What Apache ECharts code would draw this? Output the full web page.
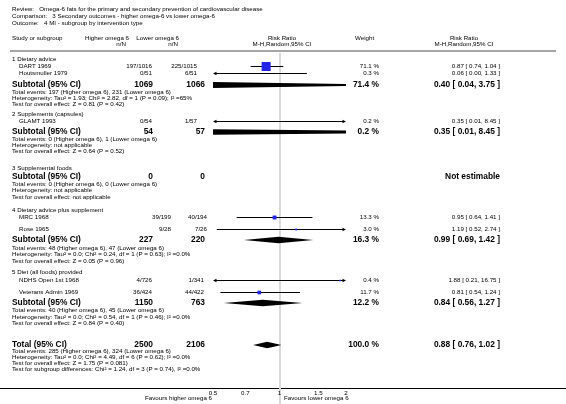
<!DOCTYPE html>
<html><head><meta charset="utf-8">
<script src="https://cdn.jsdelivr.net/npm/echarts@6/dist/echarts.min.js"></script>
<style>html,body{margin:0;padding:0;background:#fff}#c{width:566px;height:404px}</style>
</head><body><div id="c"></div>
<script>
// ================= DATA =================
const reviewTitle = 'Omega-6 fats for the primary and secondary prevention of cardiovascular disease';
const comparisonTitle = '3 Secondary outcomes - higher omega-6 vs lower omega-6';
const outcomeTitle = '4 MI - subgroup by intervention type';
const groupNames = ['1 Dietary advice', '2 Supplements (capsules)', '3 Supplemental foods', '4 Dietary advice plus supplement', '5 Diet (all foods) provided'];
const studyNames = [['DART 1969', 'Houtsmuller 1979'], ['GLAMT 1993'], [], ['MRC 1968', 'Rose 1965'], ['NDHS Open 1st 1968', 'Veterans Admin 1969']];
const higherEvents = [[197, 0], [0], [], [39, 9], [4, 36]];
const higherTotal = [[1016, 51], [54], [], [199, 28], [726, 424]];
const lowerEvents = [[225, 6], [1], [], [40, 7], [1, 44]];
const lowerTotal = [[1015, 51], [57], [], [194, 26], [341, 422]];
const studyWeight = [[71.1, 0.3], [0.2], [], [13.3, 3.0], [0.4, 11.7]];
const studyRR = [[0.87, 0.06], [0.35], [], [0.95, 1.19], [1.88, 0.81]];
const studyLo = [[0.74, 0.00], [0.01], [], [0.64, 0.52], [0.21, 0.54]];
const studyHi = [[1.04, 1.33], [8.45], [], [1.41, 2.74], [16.75, 1.24]];
const subHigherN = [1069, 54, 0, 227, 1150];
const subLowerN = [1066, 57, 0, 220, 763];
const subWeight = [71.4, 0.2, null, 16.3, 12.2];
const subRR = [0.40, 0.35, null, 0.99, 0.84];
const subLo = [0.04, 0.01, null, 0.69, 0.56];
const subHi = [3.75, 8.45, null, 1.42, 1.27];
const subEventsHigher = [197, 0, 0, 48, 40];
const subEventsLower = [231, 1, 0, 47, 45];
const subHeterogeneity = [
  'Tau\u00b2 = 1.93; Chi\u00b2 = 2.82, df = 1 (P = 0.09); I\u00b2 =65%',
  'not applicable',
  'not applicable',
  'Tau\u00b2 = 0.0; Chi\u00b2 = 0.24, df = 1 (P = 0.63); I\u00b2 =0.0%',
  'Tau\u00b2 = 0.0; Chi\u00b2 = 0.54, df = 1 (P = 0.46); I\u00b2 =0.0%'
];
const subOverall = ['Z = 0.81 (P = 0.42)', 'Z = 0.64 (P = 0.52)', 'not applicable', 'Z = 0.05 (P = 0.96)', 'Z = 0.84 (P = 0.40)'];
const totalHigherN = 2500, totalLowerN = 2106;
const totalWeight = 100.0, totalRR = 0.88, totalLo = 0.76, totalHi = 1.02;
const totalEventsHigher = 285, totalEventsLower = 324;
const totalHeterogeneity = 'Tau\u00b2 = 0.0; Chi\u00b2 = 4.49, df = 6 (P = 0.62); I\u00b2 =0.0%';
const totalOverall = 'Z = 1.75 (P = 0.081)';
const subgroupDiff = 'Chi\u00b2 = 1.24, df = 3 (P = 0.74), I\u00b2 =0.0%';
const tickValues = [0.5, 0.7, 1, 1.5, 2];
const axisMin = 0.5, axisMax = 2;
const leftLabel = 'Favours higher omega 6';
const rightLabel = 'Favours lower omega 6';

// ================= LAYOUT / STYLE =================
const FONT = '"Liberation Sans", Arial, Helvetica, sans-serif';
const fReg = '6.2px ' + FONT;
const fBold = 'bold 8.4px ' + FONT;
const LX = { study: 12, indent: 19, high: 153, low: 205, highHead: 129, lowHead: 179, plotHead: 282,
  weightHead: 355, weight: 379, rr: 500, rrHead: 464, sepL: 10, sepR: 556, favL: 212, favR: 284 };
// per-study right edges of the n/N columns (as laid out in the source figure)
const studyHighX = [[152, 152], [152], [], [171, 171], [152, 152]];
const studyLowX = [[197, 197], [197], [], [207, 207], [204, 204]];
const LY = {
  titles: [9, 16, 23], head: [38, 44], sep: 51,
  groups: [
    { head: 59, studies: [66, 73], sub: 85, info: [92, 98, 104] },
    { head: 114, studies: [121], sub: 132, info: [139, 145, 151] },
    { head: 168.5, studies: [], sub: 177, info: [184, 190, 197] },
    { head: 210, studies: [217, 229], sub: 240, info: [248, 254, 261] },
    { head: 272, studies: [280, 292], sub: 303, info: [310, 317, 323] }
  ],
  total: 345, totalInfo: [351.5, 357.5, 363.5, 369.5], axis: 388, favours: 398, refTop: 53, bottom: 404
};
const GRID = { left: 213, right: 220 };
const SQUARE_BLUE = '#2424e6';

// ================= BUILD ROWS =================
const f2 = v => v.toFixed(2);
const ci = (e, l, h) => f2(e) + ' [ ' + f2(l) + ', ' + f2(h) + ' ]';
const texts = [];
const T = (x, y, text, font, align) => texts.push({ x, y, text, font: font || fReg, align: align || 'left' });

T(LX.study, LY.titles[0], 'Review:   ' + reviewTitle);
T(LX.study, LY.titles[1], 'Comparison:   ' + comparisonTitle);
T(LX.study, LY.titles[2], 'Outcome:   ' + outcomeTitle);
T(LX.study, LY.head[0], 'Study or subgroup');
T(LX.highHead, LY.head[0], 'Higher omega 6', fReg, 'right');
T(LX.highHead - 3, LY.head[1], 'n/N', fReg, 'right');
T(LX.lowHead, LY.head[0], 'Lower omega 6', fReg, 'right');
T(LX.lowHead - 1, LY.head[1], 'n/N', fReg, 'right');
T(LX.plotHead, LY.head[0], 'Risk Ratio', fReg, 'center');
T(LX.plotHead, LY.head[1], 'M-H,Random,95% CI', fReg, 'center');
T(LX.weightHead, LY.head[0], 'Weight');
T(LX.rrHead, LY.head[0], 'Risk Ratio', fReg, 'center');
T(LX.rrHead, LY.head[1], 'M-H,Random,95% CI', fReg, 'center');

const ciRows = [];
const diamonds = [];
groupNames.forEach((g, gi) => {
  const ly = LY.groups[gi];
  T(LX.study, ly.head, g);
  studyNames[gi].forEach((s, si) => {
    const y = ly.studies[si];
    T(LX.indent, y, s);
    T(studyHighX[gi][si], y, higherEvents[gi][si] + '/' + higherTotal[gi][si], fReg, 'right');
    T(studyLowX[gi][si], y, lowerEvents[gi][si] + '/' + lowerTotal[gi][si], fReg, 'right');
    T(LX.weight, y, studyWeight[gi][si].toFixed(1) + ' %', fReg, 'right');
    T(LX.rr, y, ci(studyRR[gi][si], studyLo[gi][si], studyHi[gi][si]), fReg, 'right');
    ciRows.push({ y, est: studyRR[gi][si], lo: studyLo[gi][si], hi: studyHi[gi][si], w: studyWeight[gi][si] });
  });
  T(LX.study, ly.sub, 'Subtotal (95% CI)', fBold);
  T(LX.high, ly.sub, String(subHigherN[gi]), fBold, 'right');
  T(LX.low, ly.sub, String(subLowerN[gi]), fBold, 'right');
  if (subRR[gi] != null) {
    T(LX.weight, ly.sub, subWeight[gi].toFixed(1) + ' %', fBold, 'right');
    T(LX.rr, ly.sub, ci(subRR[gi], subLo[gi], subHi[gi]), fBold, 'right');
    diamonds.push({ y: ly.sub, est: subRR[gi], lo: subLo[gi], hi: subHi[gi] });
  } else {
    T(LX.rr, ly.sub, 'Not estimable', fBold, 'right');
  }
  T(LX.study, ly.info[0], 'Total events: ' + subEventsHigher[gi] + ' (Higher omega 6), ' + subEventsLower[gi] + ' (Lower omega 6)');
  T(LX.study, ly.info[1], 'Heterogeneity: ' + subHeterogeneity[gi]);
  T(LX.study, ly.info[2], 'Test for overall effect: ' + subOverall[gi]);
});
T(LX.study, LY.total, 'Total (95% CI)', fBold);
T(LX.high, LY.total, String(totalHigherN), fBold, 'right');
T(LX.low, LY.total, String(totalLowerN), fBold, 'right');
T(LX.weight, LY.total, totalWeight.toFixed(1) + ' %', fBold, 'right');
T(LX.rr, LY.total, ci(totalRR, totalLo, totalHi), fBold, 'right');
diamonds.push({ y: LY.total, est: totalRR, lo: totalLo, hi: totalHi });
T(LX.study, LY.totalInfo[0], 'Total events: ' + totalEventsHigher + ' (Higher omega 6), ' + totalEventsLower + ' (Lower omega 6)');
T(LX.study, LY.totalInfo[1], 'Heterogeneity: ' + totalHeterogeneity);
T(LX.study, LY.totalInfo[2], 'Test for overall effect: ' + totalOverall);
T(LX.study, LY.totalInfo[3], 'Test for subgroup differences: ' + subgroupDiff);
T(LX.favL, LY.favours, leftLabel, fReg, 'right');
T(LX.favR, LY.favours, rightLabel, fReg, 'left');

// ================= RENDERERS =================
function renderText(params, api) {
  const t = texts[params.dataIndex];
  const p = api.coord([1, t.y]);
  return { type: 'text', style: { x: t.x, y: p[1], text: t.text, font: t.font, fill: '#000', align: t.align, verticalAlign: 'middle' } };
}
function renderRef(params, api) {
  const top = api.coord([1, LY.refTop]);
  const bot = api.coord([1, LY.bottom]);
  const x = Math.round(top[0]);
  return { type: 'line', shape: { x1: x, y1: top[1], x2: x, y2: bot[1] }, style: { stroke: '#d9d9d9', lineWidth: 2 } };
}
function renderCI(params, api) {
  const c = ciRows[params.dataIndex];
  const cs = params.coordSys;
  const xmin = cs.x, xmax = cs.x + cs.width;
  const y = Math.round(api.coord([1, c.y])[1]) + 0.5;
  const clipL = c.lo < axisMin, clipR = c.hi > axisMax;
  const x1 = clipL ? xmin : api.coord([c.lo, 1])[0];
  const x2 = clipR ? xmax : api.coord([c.hi, 1])[0];
  const ch = [];
  const aL = 3.5, aW = 1.7;
  ch.push({ type: 'line', shape: { x1: clipL ? x1 + 1 : x1, y1: y, x2: clipR ? x2 - 1 : x2, y2: y }, style: { stroke: '#000', lineWidth: 1 } });
  if (clipL) ch.push({ type: 'polygon', shape: { points: [[xmin, y], [xmin + aL, y - aW], [xmin + aL, y + aW]] }, style: { fill: '#000' } });
  if (clipR) ch.push({ type: 'polygon', shape: { points: [[xmax, y], [xmax - aL, y - aW], [xmax - aL, y + aW]] }, style: { fill: '#000' } });
  if (c.est >= axisMin && c.est <= axisMax) {
    const xe = api.coord([c.est, 1])[0];
    const s = Math.max(1.6, Math.sqrt(c.w) * 1.07);
    ch.push({ type: 'rect', shape: { x: xe - s / 2, y: y - s / 2, width: s, height: s }, style: { fill: SQUARE_BLUE } });
  }
  return { type: 'group', children: ch };
}
function clipX(pts, xmin, xmax) {
  const clip = (poly, inside, inter) => {
    const out = [];
    for (let i = 0; i < poly.length; i++) {
      const a = poly[i], b = poly[(i + 1) % poly.length];
      const ia = inside(a), ib = inside(b);
      if (ia) out.push(a);
      if (ia !== ib) out.push(inter(a, b));
    }
    return out;
  };
  const at = xv => (a, b) => { const t = (xv - a[0]) / (b[0] - a[0]); return [xv, a[1] + t * (b[1] - a[1])]; };
  let p = clip(pts, q => q[0] >= xmin, at(xmin));
  p = clip(p, q => q[0] <= xmax, at(xmax));
  return p;
}
function renderDiamond(params, api) {
  const d = diamonds[params.dataIndex];
  const cs = params.coordSys;
  const y = api.coord([1, d.y])[1];
  const h = 3.2;
  const xl = api.coord([d.lo, 1])[0], xe = api.coord([d.est, 1])[0], xh = api.coord([d.hi, 1])[0];
  const pts = clipX([[xl, y], [xe, y - h], [xh, y], [xe, y + h]], cs.x, cs.x + cs.width);
  return { type: 'polygon', shape: { points: pts }, style: { fill: '#000' } };
}

// ================= CHART =================
const chart = echarts.init(document.getElementById('c'), null, { renderer: 'canvas' });
const axisY = LY.axis;
chart.setOption({
  animation: false,
  backgroundColor: '#fff',
  grid: { left: GRID.left, right: GRID.right, top: 0, bottom: LY.bottom - axisY },
  xAxis: {
    type: 'log', logBase: 2, min: axisMin, max: axisMax, z: 10,
    axisLine: { show: false },
    axisTick: { show: true, inside: true, length: 3, customValues: tickValues, lineStyle: { color: '#000', width: 1 } },
    axisLabel: { customValues: tickValues, formatter: v => String(Math.round(v * 100) / 100), fontSize: 6.2, fontFamily: 'Liberation Sans', color: '#000', margin: 2 },
    splitLine: { show: false }, minorTick: { show: false }
  },
  yAxis: { type: 'value', min: 0, max: axisY, inverse: true, show: false },
  graphic: [
    { type: 'line', shape: { x1: LX.sepL, y1: LY.sep, x2: LX.sepR, y2: LY.sep }, style: { stroke: '#a6a6a6', lineWidth: 2 } },
    { type: 'line', shape: { x1: 0, y1: axisY + 0.5, x2: 566, y2: axisY + 0.5 }, style: { stroke: '#000', lineWidth: 1 } }
  ],
  series: [
    { type: 'custom', name: 'ref', renderItem: renderRef, data: [[1, LY.refTop]], silent: true, z: 1 },
    { type: 'custom', name: 'ci', renderItem: renderCI, data: ciRows.map(c => [Math.min(Math.max(c.est, axisMin), axisMax), c.y]), silent: true, z: 2 },
    { type: 'custom', name: 'diamond', renderItem: renderDiamond, data: diamonds.map(d => [d.est, d.y]), silent: true, z: 3 },
    { type: 'custom', name: 'text', renderItem: renderText, data: texts.map(t => [1, t.y]), silent: true, z: 4 }
  ]
});
</script>
</body></html>
